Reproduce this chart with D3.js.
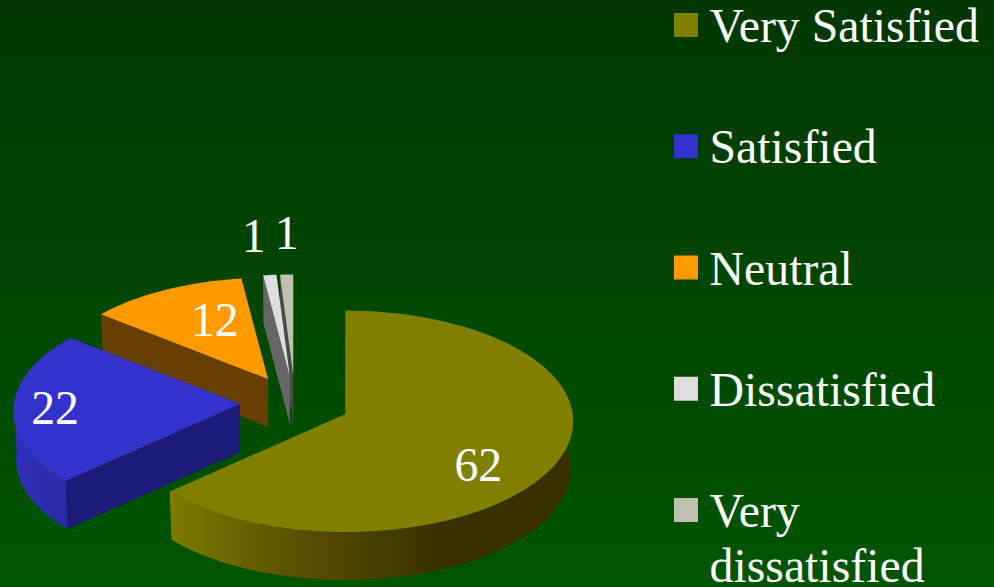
<!DOCTYPE html>
<html>
<head>
<meta charset="utf-8">
<script src="https://cdn.jsdelivr.net/npm/d3@7"></script>
<style>
html,body{margin:0;padding:0;background:#004400;overflow:hidden}
svg{display:block}
text{font-family:"Liberation Serif","Times New Roman",serif;fill:#fff;font-size:47.8px}
</style>
</head>
<body>
<svg id="chart" width="994" height="587"></svg>
<script>
const categories = ["Very Satisfied", "Satisfied", "Neutral", "Dissatisfied", "Very dissatisfied"];
const values = [62, 22, 12, 1, 1];
const topColors = ["#808000", "#3333cc", "#ff9900", "#dddddd", "#c0c0b0"];
const radialWallColors = ["#4d4d00", "#1c1c78", "#663f00", "#666666", "#4a4a4a"];
const outerWallStops = [
  ["#7c7c00", "#5a5200", "#383000", "#383000"],
  ["#3030bc", "#2a2aa4"],
  ["#663f00"], ["#666666"], ["#4a4a4a"]
];
const bgStops = ["#003700", "#005500"];

const W = 994, H = 587;
const svg = d3.select("#chart");
const defs = svg.append("defs");

const bg = defs.append("linearGradient").attr("id", "bg").attr("x1", 0).attr("x2", 0).attr("y1", 0).attr("y2", 1);
bgStops.forEach((c, i) => bg.append("stop").attr("offset", i / (bgStops.length - 1)).attr("stop-color", c));
svg.append("rect").attr("width", W).attr("height", H).attr("fill", "url(#bg)");

// pie layout (clockwise from 12 o'clock, no sorting)
const arcs = d3.pie().sort(null).value(d => d)(values);

// oblique 3D view
const cx = 295, cy = 403, rx = 226, ry = 110, explode = 55, explodeK = 0.5, depth = 48, persp = 0.065, baseScale = 0.988;
function apexOf(d) {
  const m = (d.startAngle + d.endAngle) / 2;
  return { x: cx + explode * Math.sin(m), y: cy - explode * explodeK * Math.cos(m) };
}
function project(apex, a, r) {
  const u = r * Math.sin(a), v = -r * Math.cos(a);
  const s = 1 + persp * ((apex.y - cy) / ry + v);
  return [apex.x + u * rx * s, apex.y + v * ry * s];
}
const line = d3.line();
const drop = (p, apex) => [apex.x + (p[0] - apex.x) * baseScale, p[1] + depth];
function arcPts(apex, a0, a1) {
  const n = Math.max(2, Math.ceil(Math.abs(a1 - a0) / 0.02));
  return d3.range(n + 1).map(i => project(apex, a0 + (a1 - a0) * i / n, 1));
}

// outer wall gradients
arcs.forEach((d, i) => {
  const g = defs.append("linearGradient").attr("id", "wall" + i)
    .attr("gradientUnits", "objectBoundingBox").attr("x1", 0).attr("x2", 1).attr("y1", 0).attr("y2", 0);
  const st = outerWallStops[i];
  const xs = i === 0 ? [0, 0.3, 0.68, 1] : st.map((_, k) => st.length > 1 ? k / (st.length - 1) : 0);
  st.forEach((c, k) => g.append("stop").attr("offset", xs[k]).attr("stop-color", c));
});

// paint back-to-front
const order = [4, 3, 2, 1, 0];
const g = svg.append("g");
order.forEach(i => {
  const d = arcs[i], apex = apexOf(d), a0 = d.startAngle, a1 = d.endAngle;
  const sl = g.append("g").attr("class", "slice");
  const wall = a => {
    const p = project(apex, a, 1), q = [apex.x, apex.y];
    return line([q, p, drop(p, apex), drop(q, apex)]) + "Z";
  };
  sl.append("path").attr("d", wall(a1)).attr("fill", radialWallColors[i]);
  sl.append("path").attr("d", wall(a0)).attr("fill", radialWallColors[i]);
  // front part of outer wall
  const f0 = Math.max(a0, Math.PI / 2 - 0.08), f1 = Math.min(a1, 3 * Math.PI / 2);
  if (f1 > f0) {
    const top = arcPts(apex, f0, f1);
    const bot = top.map(p => drop(p, apex)).reverse();
    sl.append("path").attr("d", line(top.concat(bot)) + "Z").attr("fill", `url(#wall${i})`);
  }
  const rim = arcPts(apex, a0, a1);
  sl.append("path").attr("d", line([[apex.x, apex.y], ...rim]) + "Z").attr("fill", topColors[i]);
});

// value labels: anchored on the slice mid-angle, then nudged as in the original
const labelRadius = [0.62, 0.72, 0.55, 1, 1];
const labelNudge = [[2, 39], [-22, 18], [5, 7], [-16, -23], [0, -25]];
arcs.forEach((d, i) => {
  const m = (d.startAngle + d.endAngle) / 2;
  const p = project(apexOf(d), m, labelRadius[i]);
  g.append("text")
    .attr("x", p[0] + labelNudge[i][0])
    .attr("y", p[1] + labelNudge[i][1])
    .attr("text-anchor", "middle")
    .text(values[i]);
});

// legend
const legendY = d3.scaleLinear().domain([0, 4]).range([42, 527]);
const legendX = 674, legendSwatch = 24, legendTextX = 709.5, legendMax = W - legendTextX;
const leg = svg.append("g");
categories.forEach((c, i) => {
  const y = legendY(i);
  leg.append("rect").attr("x", legendX).attr("y", y - 29).attr("width", legendSwatch).attr("height", legendSwatch).attr("fill", topColors[i]);
  const t = leg.append("text").attr("x", legendTextX).attr("y", y).text(c);
  if (t.node().getComputedTextLength() > legendMax) {
    const words = c.split(" ");
    t.text(null);
    words.forEach((w, k) => t.append("tspan").attr("x", legendTextX).attr("dy", k ? 55 : 0).text(w));
  }
});
</script>
</body>
</html>
